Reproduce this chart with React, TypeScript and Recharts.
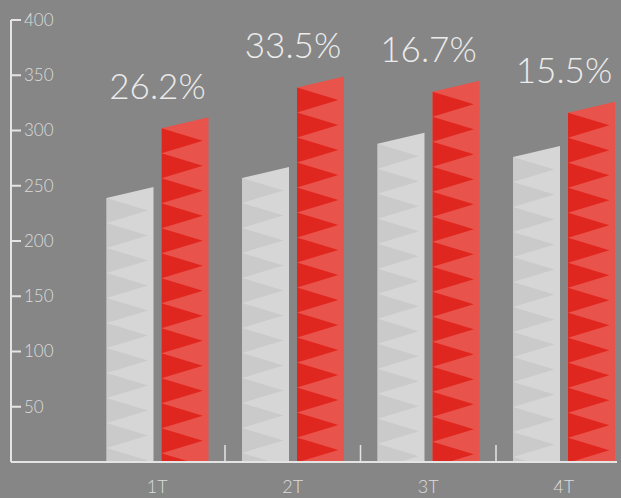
import React from 'react';
import { BarChart, Bar, XAxis, YAxis, LabelList } from 'recharts';

const categories = ['1T', '2T', '3T', '4T'];
const previousValues = [244, 262, 293, 281];
const currentValues = [307, 344, 340, 321];
const growthLabels = ['26.2%', '33.5%', '16.7%', '15.5%'];
const yTicks = [50, 100, 150, 200, 250, 300, 350, 400];

const data = categories.map((name, i) => ({
    name,
    previous: previousValues[i],
    current: currentValues[i],
    growth: growthLabels[i],
}));

const BG = '#868686';
const AXIS = '#e4e4e4';
const TEXT = '#dcdcdc';
const FONT = 'Lato, "Open Sans", sans-serif';
const SLANT = 11;
const PERIOD = 25;

// bar with slanted top and a column of right-pointing triangles
const makeShape = (light: string, dark: string, key: string) => (props: any) => {
    const { x, y, width, height, index } = props;
    if (!width || !height) return null;
    const bottom = y + height;
    const tl = y + SLANT / 2;
    const tr = y - SLANT / 2;
    const outline = `${x},${tl} ${x + width},${tr} ${x + width},${bottom} ${x},${bottom}`;
    const id = `clip-${key}-${index}`;
    const tris = [];
    for (let ty = tl; ty < bottom; ty += PERIOD) {
        tris.push(
            <polygon
                key={ty}
                points={`${x},${ty} ${x + width * 0.88},${ty + PERIOD / 2} ${x},${ty + PERIOD}`}
                fill={dark}
            />
        );
    }
    return (
        <g>
            <defs>
                <clipPath id={id}>
                    <polygon points={outline} />
                </clipPath>
            </defs>
            <polygon points={outline} fill={light} />
            <g clipPath={`url(#${id})`}>{tris}</g>
        </g>
    );
};

const YTick = (props: any) => {
    const { x, y, payload } = props;
    return (
        <g>
            <line x1={x} y1={y} x2={x + 10} y2={y} stroke={AXIS} strokeWidth={2} />
            <text x={x + 13} y={y} dy="0.35em" textAnchor="start" fill={TEXT} fontSize={17} fontWeight={300} fontFamily={FONT}>
                {payload.value}
            </text>
        </g>
    );
};

const XTick = (props: any) => {
    const { x, y, payload, index } = props;
    const half = payload.offset || 67.75;
    return (
        <g>
            {index > 0 && (
                <line x1={x - half} y1={y} x2={x - half} y2={y - 17} stroke={AXIS} strokeWidth={1.5} />
            )}
            <text x={x} y={y + 25} dy="0.35em" textAnchor="middle" fill={TEXT} fontSize={18} fontWeight={300} fontFamily={FONT}>
                {payload.value}
            </text>
        </g>
    );
};

const GrowthLabel = (props: any) => {
    const { x, y, value } = props;
    return (
        <text x={x - 4} y={y - SLANT / 2 - 31} dy="0.35em" textAnchor="middle" fill="#ececec" fontSize={35} fontWeight={300} fontFamily={FONT}>
            {value}
        </text>
    );
};

export default function App() {
    return (
        <div style={{ position: 'absolute', left: 0, top: 0, width: 621, height: 498, background: BG }}>
            <BarChart
                width={621}
                height={498}
                data={data}
                margin={{ top: 20, right: 4, left: 0, bottom: 0 }}
                barSize={47}
                barGap={8}
            >
                <XAxis
                    dataKey="name"
                    height={36}
                    padding={{ left: 78.5, right: -14.5 }}
                    axisLine={{ stroke: AXIS, strokeWidth: 2 }}
                    tickLine={false}
                    tickSize={0}
                    tickMargin={0}
                    tick={<XTick />}
                    interval={0}
                />
                <YAxis
                    width={11}
                    domain={[0, 400]}
                    ticks={yTicks}
                    axisLine={{ stroke: AXIS, strokeWidth: 2 }}
                    tickLine={false}
                    tickSize={0}
                    tickMargin={0}
                    tick={<YTick />}
                    interval={0}
                />
                <Bar dataKey="previous" shape={makeShape('#d6d6d6', '#cacaca', 'prev')} isAnimationActive={false} />
                <Bar dataKey="current" shape={makeShape('#e8534c', '#e0271f', 'curr')} isAnimationActive={false}>
                    <LabelList dataKey="growth" content={<GrowthLabel />} />
                </Bar>
            </BarChart>
        </div>
    );
}
